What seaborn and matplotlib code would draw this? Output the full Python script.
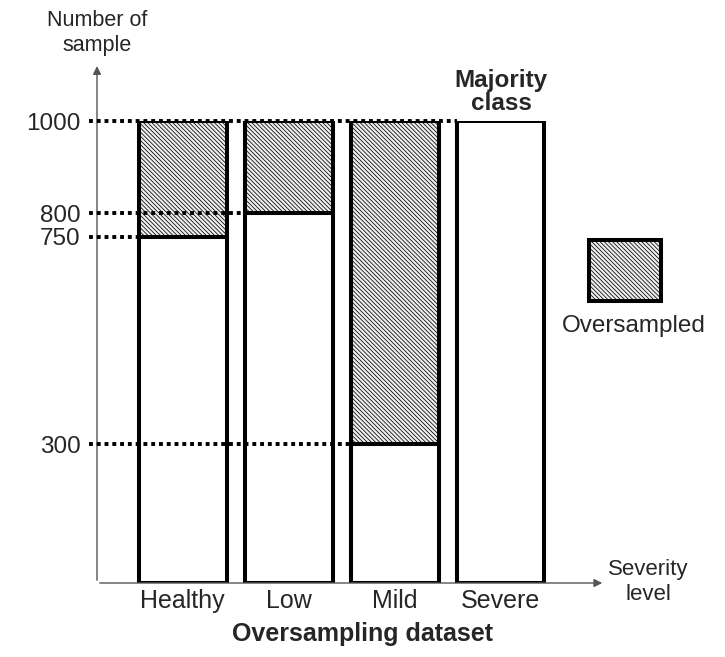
import pandas as pd
import seaborn as sns
import matplotlib.pyplot as plt
from matplotlib.patches import Rectangle

# data
levels = ['Healthy', 'Low', 'Mild', 'Severe']
original = [750, 800, 300, 1000]
total = [1000, 1000, 1000, 1000]

df = pd.DataFrame({'level': levels, 'original': original, 'total': total})

sns.set_style('white')
plt.rcParams['font.family'] = ['Liberation Sans', 'DejaVu Sans']
plt.rcParams['hatch.linewidth'] = 0.55
plt.rcParams['hatch.color'] = '#3a3a3a'

fig = plt.figure(figsize=(7.25, 6.57), dpi=100)
ax = fig.add_axes([97 / 725, 74 / 657, 503 / 725, 462 / 657])

bar_w = 0.83
hatch_fill = '#eeeeee'
hatch_pat = '\\' * 8

# full bar (oversampled part shows through), then original on top
sns.barplot(data=df, x='level', y='total', color=hatch_fill, saturation=1,
            width=bar_w, edgecolor='black', linewidth=2.9, hatch=hatch_pat, ax=ax)
sns.barplot(data=df, x='level', y='original', color='white', saturation=1,
            width=bar_w, edgecolor='black', linewidth=2.9, ax=ax)

ax.set_xlim(-0.81, 3.94)
ax.set_ylim(0, 1000)
for s in ax.spines.values():
    s.set_visible(False)

# dotted guide lines from y axis to each bar's original height
for i, v in enumerate(original):
    ax.plot([-0.89, i - bar_w / 2], [v, v], color='black', lw=2.8,
            dashes=(1.0, 1.0), clip_on=False, zorder=5)

ax.set_yticks(original)
ax.set_yticklabels([str(v) for v in original], fontsize=17.5)
ax.tick_params(axis='y', length=0, pad=12)
ax.tick_params(axis='x', length=0, pad=4, labelsize=18)
ax.set_xlabel('')
ax.set_ylabel('')

# axis arrows
arrow = dict(arrowstyle='-|>', color='#555555', lw=1, mutation_scale=12)
ax.annotate('', xy=(0, 1.125), xytext=(0, 0), xycoords='axes fraction', arrowprops=arrow)
ax.annotate('', xy=(1.01, 0), xytext=(0, 0), xycoords='axes fraction', arrowprops=arrow)

fig.text(97 / 725, 1 - 33 / 657, 'Number of\nsample', ha='center', va='center',
         fontsize=15.5, linespacing=1.3)
fig.text(648 / 725, 1 - 582 / 657, 'Severity\nlevel', ha='center', va='center',
         fontsize=16, linespacing=1.3)
fig.text(501 / 725, 1 - 92 / 657, 'Majority\nclass', ha='center', va='center',
         fontsize=17.5, fontweight='bold', linespacing=1.05)
fig.text(363 / 725, 1 - 634 / 657, 'Oversampling dataset', ha='center', va='center',
         fontsize=18, fontweight='bold')

# legend box
fig.add_artist(Rectangle((589 / 725, 1 - 301 / 657), 72 / 725, 61 / 657,
                         transform=fig.transFigure, facecolor=hatch_fill,
                         edgecolor='black', lw=2.9, hatch=hatch_pat))
fig.text(634 / 725, 1 - 326 / 657, 'Oversampled', ha='center', va='center', fontsize=17.5)

fig.savefig('out.png', dpi=100)
